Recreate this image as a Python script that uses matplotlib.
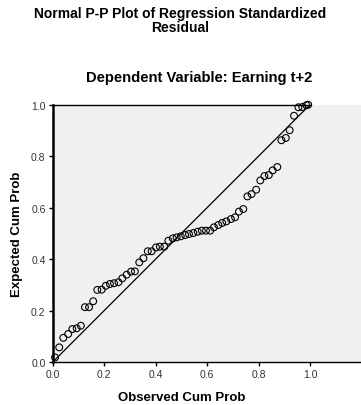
import numpy as np
import matplotlib
matplotlib.use("Agg")
import matplotlib.pyplot as plt

plt.rcParams['font.family'] = ['Liberation Sans', 'DejaVu Sans']

# Observed and expected cumulative probabilities
observed = [0.010, 0.026, 0.042, 0.061, 0.077, 0.094, 0.110, 0.126, 0.142, 0.158,
            0.174, 0.191, 0.207, 0.223, 0.239, 0.256, 0.271, 0.288, 0.305, 0.320,
            0.337, 0.353, 0.370, 0.385, 0.402, 0.417, 0.434, 0.450, 0.467, 0.482,
            0.498, 0.515, 0.530, 0.547, 0.564, 0.580, 0.596, 0.612, 0.627, 0.644,
            0.659, 0.675, 0.693, 0.709, 0.724, 0.741, 0.757, 0.773, 0.791, 0.807,
            0.823, 0.840, 0.855, 0.873, 0.889, 0.906, 0.921, 0.938, 0.955, 0.970,
            0.986, 0.993]
expected = [0.019, 0.058, 0.095, 0.110, 0.129, 0.132, 0.142, 0.214, 0.214, 0.237,
            0.281, 0.282, 0.297, 0.304, 0.307, 0.311, 0.326, 0.340, 0.352, 0.353,
            0.388, 0.404, 0.431, 0.431, 0.446, 0.449, 0.449, 0.472, 0.481, 0.485,
            0.489, 0.494, 0.498, 0.502, 0.507, 0.511, 0.511, 0.511, 0.524, 0.533,
            0.541, 0.547, 0.556, 0.563, 0.585, 0.595, 0.644, 0.653, 0.670, 0.706,
            0.723, 0.727, 0.745, 0.758, 0.862, 0.871, 0.901, 0.957, 0.990, 0.991,
            0.998, 1.000]
ref_line = [0.0, 1.0]
ticks = [0.0, 0.2, 0.4, 0.6, 0.8, 1.0]
tick_labels = ['0.0', '0.2', '0.4', '0.6', '0.8', '1.0']

fig = plt.figure(figsize=(3.61, 4.06), dpi=100)
ax = fig.add_axes([52.5 / 361, (406 - 363.3) / 406, 309 / 361, 257.6 / 406])
ax.set_facecolor('#f0f0f0')

ax.plot(ref_line, ref_line, color='black', lw=0.9, zorder=2)
ax.scatter(observed, expected, s=24, facecolors='none', edgecolors='black',
           linewidths=0.8, zorder=3, clip_on=False)

ax.set_xlim(0, 1.2)
ax.set_ylim(0, 1.0)
ax.set_xticks(ticks)
ax.set_xticklabels(tick_labels)
ax.set_yticks(ticks)
ax.set_yticklabels(tick_labels)
ax.tick_params(direction='out', length=3, width=1, labelsize=7.5,
               labelcolor='#333333', pad=2)

for s in ['top', 'right']:
    ax.spines[s].set_visible(False)
ax.spines['left'].set_linewidth(1.8)
ax.spines['bottom'].set_linewidth(1.0)
ax.axhline(1.0, xmin=0, xmax=1 / 1.2, color='black', lw=1.0, clip_on=False)

ax.set_xlabel('Observed Cum Prob', fontsize=9.5, fontweight='bold')
ax.xaxis.set_label_coords(0.5 / 1.2, -0.11)
ax.set_ylabel('Expected Cum Prob', fontsize=9.5, fontweight='bold')
ax.yaxis.set_label_coords(-0.095, 0.5)

fig.text(0.5, 1 - 21 / 406, 'Normal P-P Plot of Regression Standardized\nResidual',
         ha='center', va='center', fontsize=10, fontweight='bold', linespacing=1.05)
fig.text(199 / 361, 1 - 78 / 406, 'Dependent Variable: Earning t+2',
         ha='center', va='center', fontsize=10.6, fontweight='bold')

fig.savefig('out.png', dpi=100)
